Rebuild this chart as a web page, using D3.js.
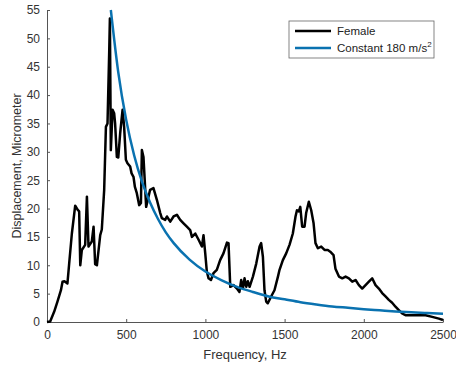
<!DOCTYPE html>
<html>
<head>
  <meta charset="UTF-8">
  <title>Displacement vs frequency</title>
  <style>
    body { margin: 0; background: #fff; }
    text { font-family: "Liberation Sans", Arial, sans-serif; }
    .axis path, .axis line { stroke: #555; }
    .axis text { fill: #333; font-size: 12px; }
  </style>
</head>
<body>
<svg id="chart"></svg>
<script src="https://d3js.org/d3.v7.min.js"></script>
<script>

// Female response (Hz, micrometer)
var femaleFreq = [0, 20, 45, 66, 88, 98, 110, 129, 140, 157, 178, 193, 203, 210, 220, 241, 252, 262, 283, 294, 304, 315, 336, 346, 361,
  372, 382, 393, 397, 403, 414, 424, 430, 441, 450, 462, 477, 487, 498, 508, 525, 534, 546, 555, 567, 582, 593, 599, 609,
  626, 651, 672, 694, 715, 725, 746, 757, 778, 799, 820, 841, 862, 883, 904, 915, 936, 957, 978, 988, 999, 1009, 1020, 1035,
  1051, 1072, 1093, 1114, 1136, 1146, 1157, 1178, 1199, 1215, 1226, 1237, 1247, 1258, 1268, 1279, 1300, 1321, 1342, 1352,
  1363, 1373, 1384, 1394, 1415, 1436, 1458, 1468, 1489, 1510, 1531, 1552, 1569, 1578, 1590, 1599, 1611, 1626, 1636, 1653,
  1668, 1683, 1695, 1710, 1731, 1752, 1773, 1788, 1809, 1821, 1843, 1864, 1885, 1906, 1927, 1948, 1969, 1990, 2011, 2032,
  2053, 2074, 2095, 2116, 2137, 2158, 2179, 2200, 2221, 2242, 2263, 2305, 2347, 2390, 2432, 2474, 2500];
var femaleDisp = [0, 0.1, 1.8, 3.6, 5.6, 7.1, 7.2, 6.8, 10.3, 15.6, 20.5, 19.8, 19.5, 10, 12.7, 13.6, 22.1, 13.3, 14.2, 16.8, 10.2, 10, 15.3, 16.3, 23.3,
  34.4, 35, 48, 53.5, 30.3, 37.4, 36.8, 35, 29.1, 29, 33.3, 37.4, 34.4, 28.6, 28, 27.4, 26.2, 25.6, 23.8, 22.7, 20.6, 21, 30.3, 29.1,
  20.3, 23.3, 23.6, 21.5, 19.2, 18.3, 18, 18.6, 17.7, 18.6, 18.9, 18, 17.4, 16.8, 16.2, 15, 15.6, 14.5, 13.3, 15.3, 12.1, 8.9, 7.7, 7.4,
  8.6, 9.2, 10.9, 12.1, 14, 13.9, 6.2, 6.5, 5.9, 5.3, 7.4, 5.9, 7.7, 6.2, 7.2, 6.2, 8, 10.3, 13.3, 13.9,
  11.5, 5.6, 3.6, 3.3, 4.5, 5.6, 8, 9.2, 10.9, 12.1, 13.6, 15.6, 18.6, 19.7, 19.5, 20.3, 16.8, 16.8, 19.2, 21.2,
  19.7, 17.4, 13.9, 13, 13.3, 12.7, 12.7, 12.4, 11.8, 9.4, 8, 7.7, 8, 7.7, 7.1, 7.4, 6.5, 5.9, 6.5, 7.1,
  7.7, 6.5, 5.9, 5.1, 4.5, 3.9, 3.4, 2.7, 2.1, 1.5, 1.2, 1.2, 1.2, 1.2, 0.9, 0.6, 0.35];

// Constant 180 m/s^2 reference curve
var constFreq = [403, 450, 500, 550, 600, 650, 700, 750, 800, 900, 1000, 1100, 1200, 1300, 1400, 1500, 1600, 1700, 1800, 1900, 2000, 2100, 2200, 2300, 2400, 2500];
var constDisp = [55, 44, 35.6, 29.4, 24.7, 21.1, 18.2, 15.8, 13.9, 11.0, 8.9, 7.4, 6.2, 5.3, 4.5, 4.0, 3.5, 3.1, 2.75, 2.5, 2.25, 2.05, 1.85, 1.7, 1.58, 1.47];

var xTicks = [0, 500, 1000, 1500, 2000, 2500];
var yTicks = [0, 5, 10, 15, 20, 25, 30, 35, 40, 45, 50, 55];
var seriesNames = ["Female", "Constant 180 m/s"];
var seriesColors = ["#000000", "#0a72b0"];

var width = 456, height = 367;
var margin = {top: 10, right: 13, bottom: 45, left: 47};

var svg = d3.select("#chart")
    .attr("width", width)
    .attr("height", height);

var x = d3.scaleLinear().domain([0, 2500]).range([margin.left, width - margin.right]);
var y = d3.scaleLinear().domain([0, 55]).range([height - margin.bottom, margin.top]);

// axes, ticks pointing inward like matlab
svg.append("g")
    .attr("class", "axis")
    .attr("transform", "translate(0," + (height - margin.bottom) + ")")
    .call(d3.axisBottom(x).tickValues(xTicks).tickFormat(d3.format("d"))
        .tickSizeInner(-3).tickSizeOuter(0).tickPadding(8));

svg.append("g")
    .attr("class", "axis")
    .attr("transform", "translate(" + margin.left + ",0)")
    .call(d3.axisLeft(y).tickValues(yTicks).tickFormat(d3.format("d"))
        .tickSizeInner(-3).tickSizeOuter(0).tickPadding(7));

// axis labels
svg.append("text")
    .attr("x", (margin.left + width - margin.right) / 2)
    .attr("y", 359)
    .attr("text-anchor", "middle")
    .style("font-size", "13px")
    .style("fill", "#333")
    .text("Frequency, Hz");

svg.append("text")
    .attr("transform", "translate(21," + ((margin.top + height - margin.bottom) / 2) + ") rotate(-90)")
    .attr("text-anchor", "middle")
    .style("font-size", "12.5px")
    .style("fill", "#333")
    .text("Displacement, Micrometer");

// lines
var female = femaleFreq.map(function(f, i) { return [f, femaleDisp[i]]; });
var constant = constFreq.map(function(f, i) { return [f, constDisp[i]]; });

var line = d3.line()
    .x(function(d) { return x(d[0]); })
    .y(function(d) { return y(d[1]); });

svg.append("path")
    .datum(female)
    .attr("fill", "none")
    .attr("stroke", seriesColors[0])
    .attr("stroke-width", 2.5)
    .attr("stroke-linejoin", "round")
    .attr("d", line);

svg.append("path")
    .datum(constant)
    .attr("fill", "none")
    .attr("stroke", seriesColors[1])
    .attr("stroke-width", 2.5)
    .attr("d", line.curve(d3.curveMonotoneX));

// legend
var legend = svg.append("g").attr("transform", "translate(289,21)");
legend.append("rect")
    .attr("width", 145)
    .attr("height", 37)
    .attr("fill", "#fff")
    .attr("stroke", "#666")
    .attr("stroke-width", 0.8);

legend.selectAll("line.key")
    .data(seriesNames)
    .enter()
    .append("line")
    .attr("x1", 6)
    .attr("x2", 42)
    .attr("y1", function(d, i) { return 10 + i * 17; })
    .attr("y2", function(d, i) { return 10 + i * 17; })
    .attr("stroke", function(d, i) { return seriesColors[i]; })
    .attr("stroke-width", 2.5);

var labels = legend.selectAll("text.key")
    .data(seriesNames)
    .enter()
    .append("text")
    .attr("x", 48)
    .attr("y", function(d, i) { return 14 + i * 17; })
    .style("font-size", "11.5px")
    .style("fill", "#222")
    .text(function(d) { return d; });

labels.filter(function(d, i) { return i == 1; })
    .append("tspan")
    .attr("dy", -5)
    .style("font-size", "8px")
    .text("2");

</script>
</body>
</html>
